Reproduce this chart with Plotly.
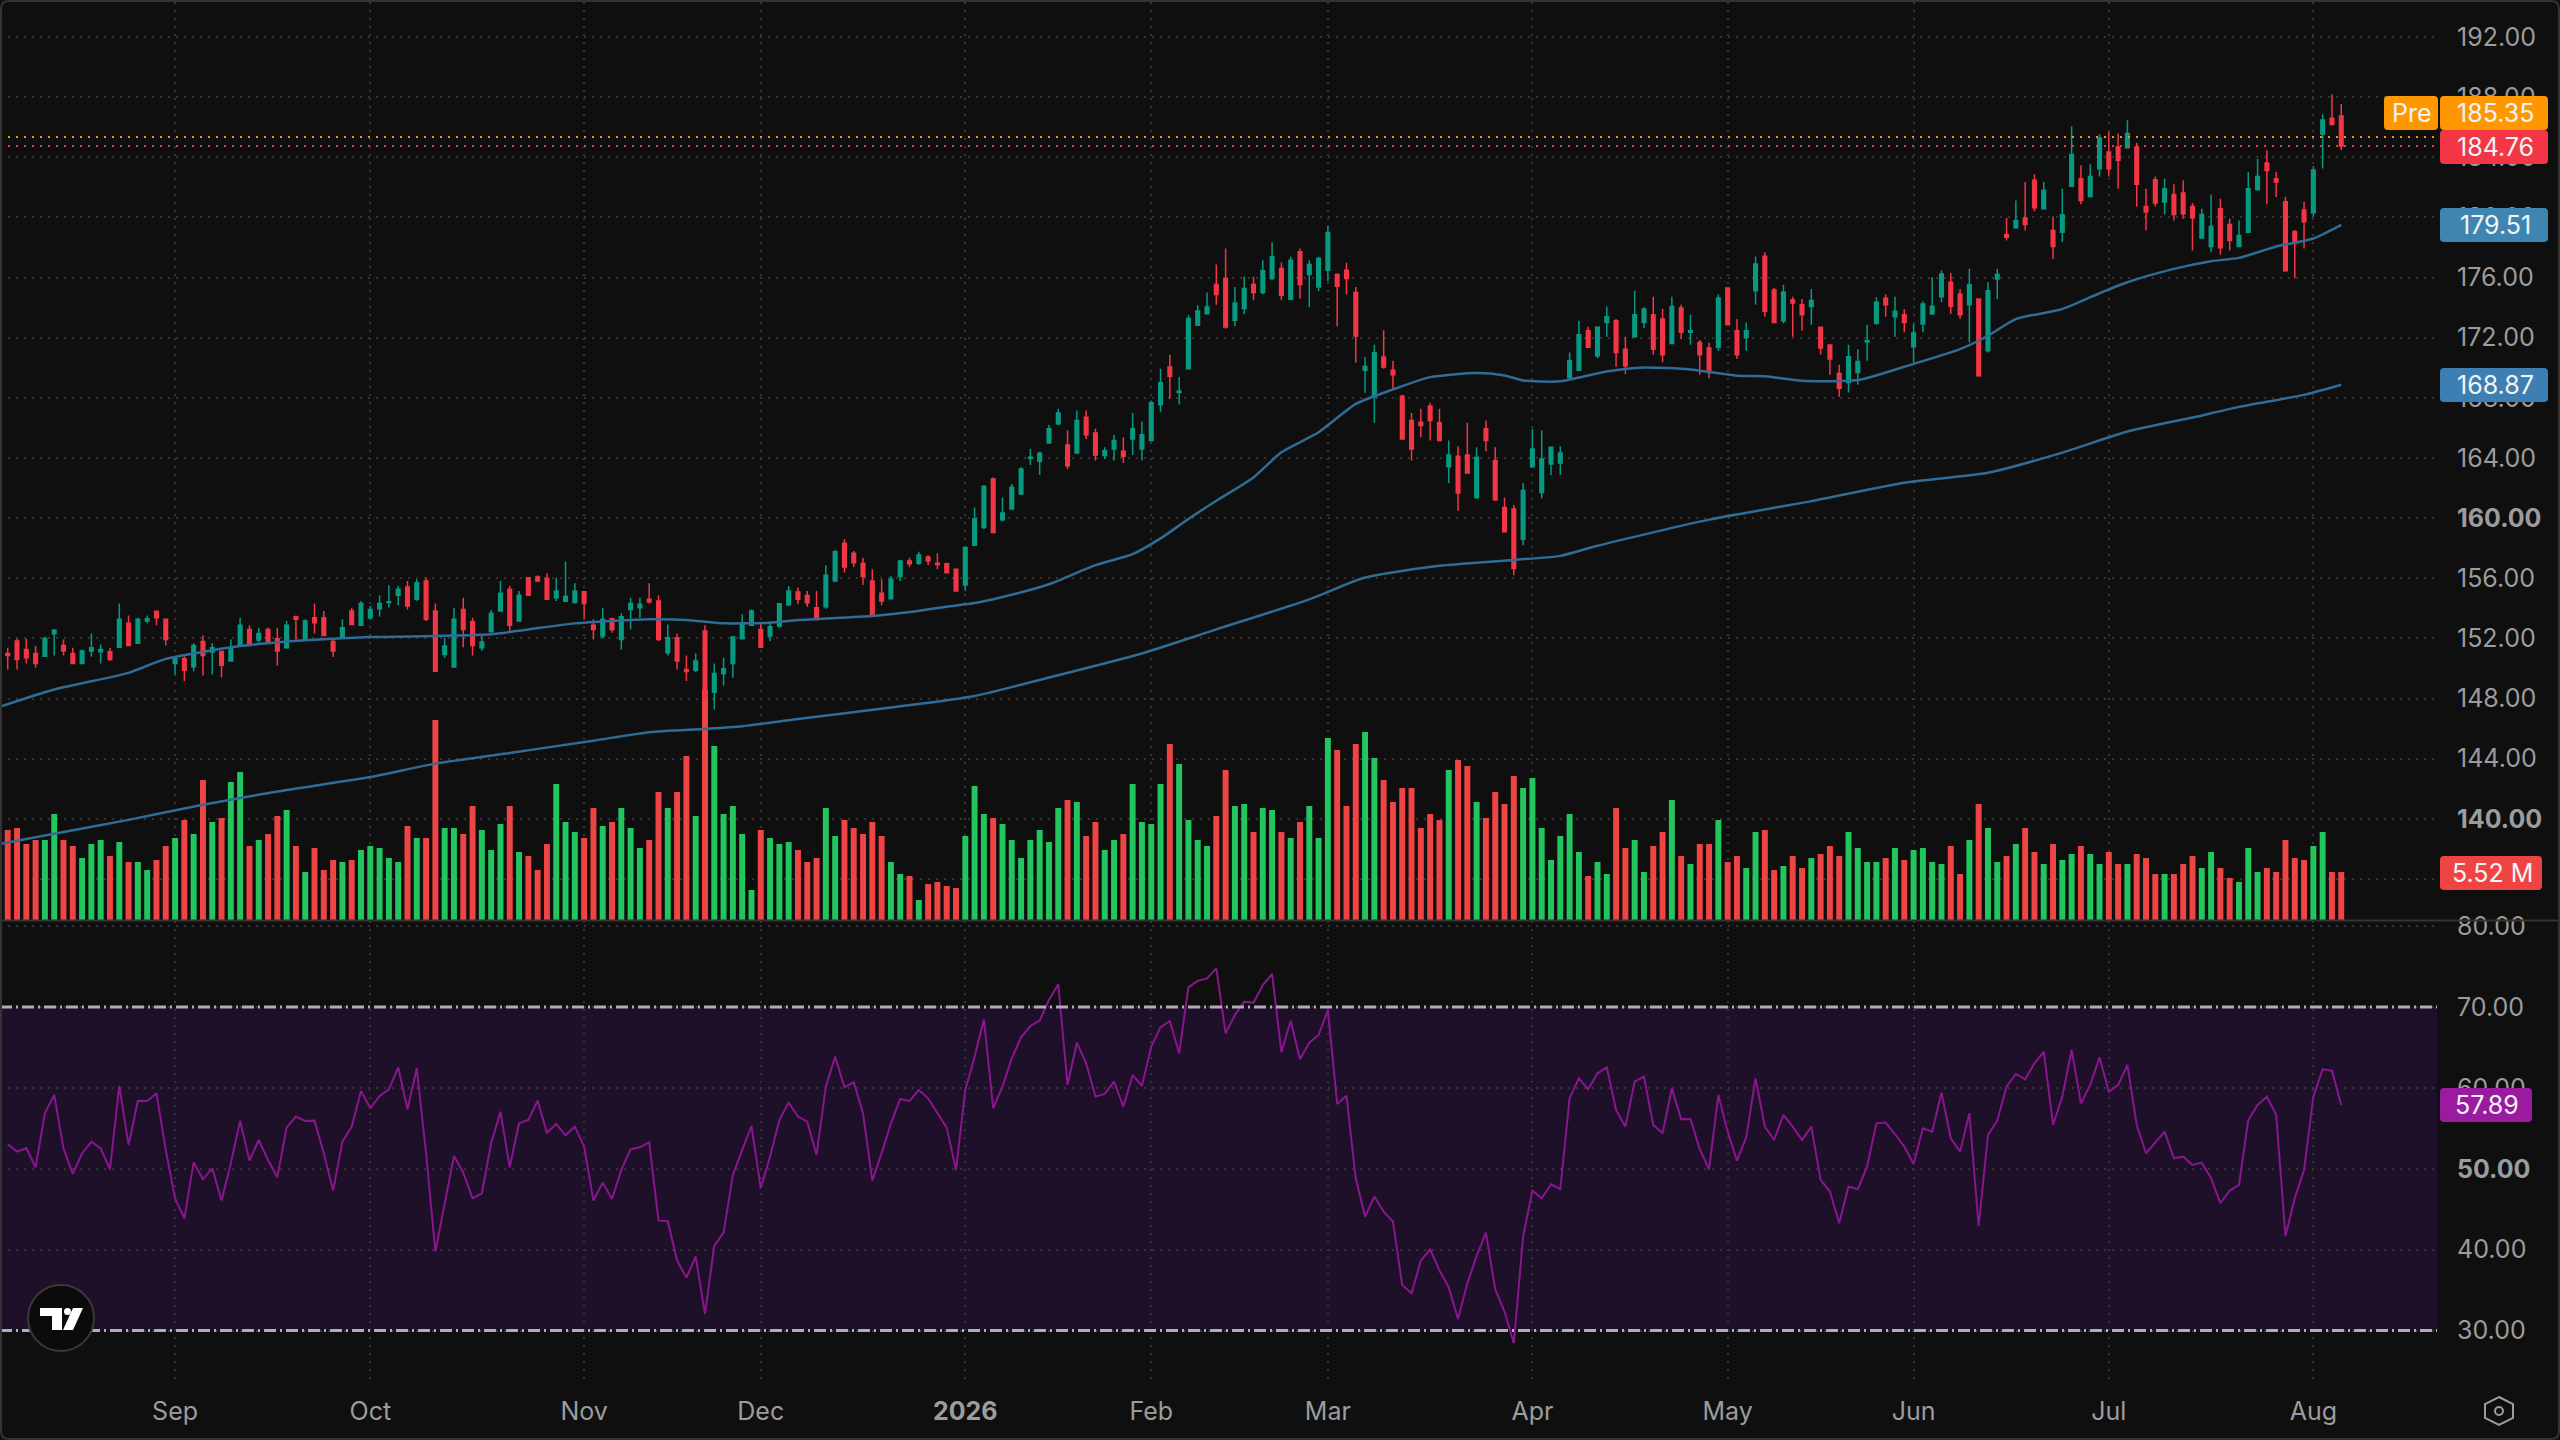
import plotly.graph_objects as go

W, H = 2560, 1440
BG = "#0f0f0f"
GRID = "#343434"
TICK = "#9c9c9c"
FONT = "Inter"

# one letter per session, R down / G up, Aug 2025 to Aug 2026
candle_dirs = (
    "RRRRGGRRGG" "GRGRGGRRGR" "GRGRGGRGRR" "GRGRRRGRGG" "GGGRGRRGGR"
    "RGGGRGRRRG" "GGRRGRGGGR" "RGRRGRGGGG" "GRGGGRRRGG" "RRRRRGGRGR"
    "RRRGGGRGGG" "GGGGRGRRGG" "RGGGGRGGGG" "RRGGRGGRGR" "GGGRRRGGRR"
    "RRRRRGRRGR" "RRRGGGGGGG" "RGGRRGGRRG" "RGRRGRRGGR" "RGRRGRRRGG"
    "GGRGRGGGGR" "RGRGGRGRRG" "RGGRGGRRGR" "RRGRRRGGRR" "GGGRRRRRGG"
    "RR"
)

high_prices = [
    151.38, 151.98, 151.98, 151.49, 152.11, 152.6, 151.93, 151.38, 151.27, 152.33,
    151.6, 151.38, 154.33, 153.53, 153.38, 153.53, 153.82, 153.31, 150.82, 150.82,
    151.67, 152.2, 151.67, 151.16, 151.93, 153.38, 152.87, 152.71, 152.71, 152.71,
    153.16, 153.53, 153.27, 154.33, 153.82, 151.93, 153.27, 154.04, 154.49, 154.16,
    154.87, 155.53, 155.49, 155.82, 155.93, 156.04, 154.33, 152.04, 154.04, 154.71,
    153.38, 152.16, 153.89, 155.82, 155.49, 155.16, 156.04, 156.2, 156.33, 156.04,
    157.11, 155.67, 155.16, 153.27, 154.04, 153.38, 153.67, 154.71, 154.71, 155.67,
    154.87, 152.93, 152.33, 150.87, 151.0, 152.87, 150.33, 150.71, 152.16, 153.6,
    153.93, 153.09, 153.16, 154.33, 155.49, 155.38, 155.16, 155.16, 156.86, 157.89,
    158.6, 157.82, 157.37, 156.6, 155.93, 156.15, 157.22, 157.37, 157.77, 157.53,
    157.66, 157.04, 156.64, 158.11, 160.71, 162.2, 162.71, 161.38, 162.27, 163.38,
    164.6, 164.42, 166.2, 167.27, 165.83, 167.16, 167.16, 165.94, 164.71, 165.54,
    165.38, 167.0, 166.42, 167.83, 169.94, 170.87, 169.38, 173.49, 174.16, 175.0,
    176.87, 177.94, 175.38, 176.05, 176.05, 177.16, 178.34, 177.0, 177.38, 177.94,
    177.16, 177.38, 179.45, 176.27, 176.98, 175.38, 170.71, 171.54, 172.49, 170.45,
    168.2, 167.0, 167.27, 167.67, 167.27, 165.16, 164.78, 166.34, 164.71, 166.49,
    164.71, 161.38, 160.87, 162.34, 165.94, 165.83, 164.71, 164.78, 171.02, 173.13,
    172.73, 172.73, 174.07, 173.24, 172.07, 175.13, 174.02, 174.73, 173.91, 174.73,
    174.2, 173.53, 171.84, 171.69, 174.87, 175.36, 173.24, 173.02, 177.4, 177.69,
    175.31, 175.53, 174.73, 174.58, 175.24, 172.73, 171.53, 170.2, 171.53, 171.24,
    172.87, 174.69, 174.87, 174.73, 173.91, 172.91, 174.42, 176.02, 176.47, 176.29,
    175.24, 176.58, 174.58, 175.69, 176.58, 179.96, 181.13, 182.36, 182.87, 182.36,
    180.07, 181.91, 186.07, 183.47, 183.53, 185.51, 185.69, 185.58, 186.47, 184.96,
    181.91, 182.73, 182.58, 182.2, 182.47, 180.96, 180.58, 181.53, 181.24, 179.91,
    179.8, 183.02, 183.91, 184.47, 183.02, 181.38, 179.16, 181.05, 183.4, 186.87,
    188.19, 187.54,
]

body_tops = [
    151.0, 151.82, 151.27, 151.0, 152.0, 152.56, 151.53, 151.0, 151.16, 151.38,
    151.27, 151.11, 153.27, 153.0, 153.27, 153.31, 153.8, 153.27, 150.64, 150.64,
    151.53, 151.8, 151.38, 151.13, 151.38, 152.87, 152.6, 152.33, 152.6, 151.98,
    152.87, 153.44, 153.16, 153.38, 153.38, 151.8, 152.71, 153.82, 154.33, 153.93,
    154.33, 154.44, 155.27, 155.42, 155.71, 155.82, 153.82, 151.49, 153.27, 153.93,
    153.11, 151.76, 153.67, 155.0, 155.27, 154.87, 156.04, 156.09, 155.98, 155.16,
    154.78, 155.16, 155.11, 152.87, 153.27, 153.31, 153.44, 154.33, 154.27, 154.6,
    154.49, 152.04, 152.04, 149.93, 150.49, 152.49, 149.67, 149.98, 152.09, 152.93,
    153.82, 152.6, 152.78, 154.31, 155.16, 155.09, 154.86, 154.04, 156.2, 157.77,
    158.33, 157.66, 157.0, 155.82, 155.0, 155.93, 157.15, 157.15, 157.55, 157.42,
    157.0, 156.97, 156.6, 158.04, 159.94, 162.11, 162.6, 160.34, 162.05, 163.27,
    164.05, 164.31, 165.94, 167.0, 164.87, 166.49, 166.71, 165.67, 164.49, 165.16,
    164.45, 165.94, 165.54, 167.67, 169.0, 170.05, 168.45, 173.27, 173.78, 174.05,
    175.54, 175.94, 174.31, 175.27, 175.54, 176.45, 177.38, 176.6, 177.16, 177.71,
    176.87, 177.27, 179.0, 176.2, 176.49, 175.0, 170.09, 171.0, 170.71, 169.83,
    168.11, 166.49, 166.38, 167.45, 166.34, 164.2, 164.11, 164.2, 164.05, 165.94,
    163.83, 160.71, 160.6, 161.83, 164.6, 163.94, 164.71, 164.34, 170.47, 172.2,
    172.47, 172.69, 173.4, 173.13, 171.24, 173.53, 173.91, 173.53, 173.24, 174.07,
    173.98, 172.47, 171.69, 171.31, 174.64, 175.31, 172.47, 172.47, 176.91, 177.42,
    175.18, 175.02, 174.51, 174.2, 174.47, 172.69, 171.51, 169.62, 170.73, 170.42,
    171.8, 174.36, 174.62, 173.76, 173.53, 172.31, 174.24, 174.07, 176.24, 175.69,
    174.91, 175.53, 174.58, 175.13, 176.2, 178.87, 179.8, 179.96, 182.47, 181.8,
    179.13, 180.18, 184.18, 182.58, 182.73, 185.29, 184.36, 184.69, 185.58, 184.69,
    180.73, 182.51, 181.91, 181.53, 181.62, 180.73, 180.2, 179.4, 180.58, 179.53,
    178.8, 181.91, 182.73, 183.62, 182.58, 181.05, 179.05, 180.49, 183.15, 186.48,
    186.59, 186.74,
]

body_bottoms = [
    150.87, 150.6, 150.71, 150.33, 150.82, 152.31, 151.16, 150.33, 150.33, 151.16,
    151.11, 150.6, 151.42, 151.53, 151.67, 153.16, 153.38, 151.93, 150.33, 149.89,
    150.11, 150.87, 151.09, 150.22, 150.49, 151.49, 151.53, 151.89, 151.76, 151.16,
    151.38, 153.27, 151.89, 153.04, 152.2, 151.16, 152.04, 152.93, 152.87, 153.38,
    153.98, 154.38, 154.87, 154.16, 154.6, 153.27, 149.82, 150.93, 150.09, 152.6,
    151.53, 151.38, 152.44, 153.82, 152.87, 153.16, 154.87, 155.82, 154.6, 154.71,
    154.47, 154.38, 154.33, 152.6, 152.16, 152.6, 151.93, 153.93, 154.04, 154.42,
    151.93, 151.04, 150.49, 149.8, 149.89, 147.82, 148.42, 149.67, 150.33, 151.98,
    152.87, 151.42, 152.16, 152.82, 154.22, 154.6, 154.37, 153.26, 154.11, 155.82,
    156.75, 157.04, 156.11, 153.53, 154.49, 154.64, 156.11, 156.97, 157.0, 157.15,
    156.91, 156.37, 155.15, 155.55, 158.2, 159.38, 159.05, 159.89, 160.6, 161.6,
    163.98, 163.78, 165.0, 166.27, 163.49, 164.34, 165.54, 164.2, 164.16, 164.6,
    164.11, 165.27, 164.6, 165.16, 167.54, 169.43, 168.36, 169.94, 172.83, 173.6,
    174.87, 172.72, 173.16, 173.94, 175.0, 175.0, 175.94, 174.83, 174.56, 175.54,
    176.2, 175.38, 176.49, 175.42, 175.94, 172.11, 169.83, 168.05, 170.05, 169.54,
    165.27, 164.6, 166.16, 166.49, 165.16, 163.42, 161.67, 163.0, 161.38, 165.16,
    161.2, 159.09, 156.65, 158.6, 163.42, 161.71, 163.6, 163.67, 169.36, 169.84,
    171.36, 170.8, 173.02, 171.02, 170.13, 172.07, 173.02, 171.24, 170.87, 171.62,
    172.36, 172.36, 170.87, 169.69, 171.36, 172.87, 170.87, 172.02, 175.13, 173.76,
    173.02, 173.13, 174.31, 173.53, 174.07, 171.31, 170.58, 168.64, 169.02, 169.69,
    171.71, 172.96, 174.2, 173.4, 173.02, 171.4, 172.91, 173.58, 174.73, 174.09,
    173.53, 174.2, 169.47, 171.13, 175.91, 178.69, 179.31, 179.53, 180.64, 180.58,
    178.07, 179.02, 182.07, 181.13, 181.4, 183.24, 183.24, 183.8, 184.64, 182.2,
    180.36, 180.96, 181.02, 180.2, 180.24, 179.98, 178.64, 178.07, 177.98, 178.47,
    178.07, 179.02, 181.84, 183.13, 182.36, 176.46, 178.27, 179.71, 180.31, 185.55,
    186.19, 184.76,
]

low_prices = [
    149.93, 149.93, 150.33, 150.04, 150.76, 150.87, 150.87, 150.31, 150.31, 150.78,
    150.33, 150.49, 151.4, 151.53, 151.64, 153.0, 152.87, 151.53, 149.6, 149.16,
    149.82, 149.53, 149.6, 149.42, 150.47, 151.44, 151.49, 151.71, 151.71, 150.2,
    151.31, 151.93, 151.87, 152.33, 152.16, 150.76, 152.02, 152.87, 152.87, 153.27,
    153.44, 154.04, 154.2, 153.93, 154.51, 153.16, 149.78, 150.71, 150.07, 151.42,
    150.87, 151.16, 152.42, 153.8, 152.49, 153.11, 154.87, 155.76, 154.6, 154.49,
    154.44, 154.33, 153.31, 151.93, 152.0, 152.38, 151.27, 152.6, 153.38, 154.33,
    151.82, 150.87, 149.93, 149.16, 149.76, 147.78, 147.27, 148.87, 149.38, 151.93,
    152.82, 151.38, 151.82, 152.71, 154.2, 154.27, 154.11, 153.26, 153.97, 155.82,
    156.37, 156.75, 155.55, 153.44, 154.2, 154.6, 155.82, 156.75, 156.89, 156.89,
    156.6, 156.33, 155.11, 155.15, 158.18, 159.27, 159.0, 159.78, 160.58, 161.54,
    163.54, 162.87, 164.98, 166.2, 163.27, 164.34, 165.27, 163.83, 163.94, 163.83,
    163.67, 164.2, 163.83, 165.09, 167.05, 167.94, 167.56, 169.94, 172.78, 173.56,
    174.2, 172.6, 172.76, 173.56, 174.49, 174.89, 175.83, 174.49, 174.49, 174.6,
    174.05, 175.11, 175.76, 172.76, 174.87, 170.34, 168.34, 166.34, 169.94, 168.49,
    165.27, 163.83, 165.38, 165.16, 165.11, 162.34, 160.49, 163.0, 161.27, 164.45,
    161.16, 159.05, 156.2, 158.2, 163.38, 161.31, 162.87, 162.87, 169.18, 169.8,
    171.31, 170.64, 172.07, 170.07, 169.58, 172.02, 172.64, 170.87, 170.36, 171.58,
    171.91, 171.53, 169.53, 169.31, 171.13, 172.87, 170.58, 171.13, 174.2, 173.4,
    172.98, 172.96, 172.07, 172.47, 172.87, 170.87, 169.53, 168.07, 168.36, 168.87,
    170.47, 172.87, 173.4, 172.07, 172.36, 170.24, 172.36, 173.53, 174.36, 173.58,
    173.24, 171.69, 169.4, 171.02, 174.58, 178.47, 179.24, 179.13, 180.42, 180.58,
    177.24, 178.36, 182.07, 180.87, 181.4, 182.73, 182.73, 181.91, 184.64, 180.73,
    179.13, 180.73, 180.2, 179.8, 179.91, 177.8, 178.6, 177.69, 177.53, 177.8,
    178.07, 178.98, 181.8, 180.87, 181.36, 176.39, 175.95, 177.94, 180.05, 183.26,
    186.15, 184.48,
]

# volume in millions
volumes = [
    10.35, 10.58, 8.74, 9.2, 9.2, 12.19, 9.2, 8.51, 7.13, 8.74,
    9.2, 7.36, 8.97, 6.67, 6.67, 5.75, 6.9, 8.51, 9.43, 11.5,
    9.89, 16.1, 11.27, 11.73, 15.87, 17.02, 8.51, 9.2, 9.89, 11.96,
    12.65, 8.51, 5.52, 8.28, 5.75, 6.9, 6.67, 6.9, 8.05, 8.51,
    8.28, 7.13, 6.67, 10.81, 9.43, 9.43, 23.0, 10.58, 10.58, 9.89,
    13.11, 10.35, 8.05, 11.04, 13.11, 7.82, 7.36, 5.75, 8.74, 15.64,
    11.27, 10.12, 9.43, 12.88, 10.81, 11.27, 12.88, 10.58, 8.28, 9.2,
    14.72, 12.88, 14.72, 18.86, 11.96, 26.45, 20.01, 12.19, 13.11, 9.89,
    3.45, 10.35, 9.43, 8.74, 8.97, 8.05, 6.67, 7.13, 12.88, 9.66,
    11.5, 10.58, 9.89, 11.27, 9.66, 6.67, 5.29, 5.06, 2.3, 4.14,
    4.37, 3.91, 3.68, 9.66, 15.41, 12.19, 11.73, 11.04, 9.2, 7.13,
    9.2, 10.35, 8.97, 12.88, 13.8, 13.57, 9.66, 11.27, 8.05, 9.2,
    9.89, 15.64, 11.27, 11.04, 15.64, 20.24, 17.94, 11.5, 9.2, 8.51,
    11.96, 17.25, 13.11, 13.34, 10.12, 12.88, 12.65, 10.12, 9.43, 11.27,
    13.11, 9.43, 20.93, 19.55, 13.11, 20.24, 21.62, 18.63, 16.1, 13.57,
    15.18, 15.18, 10.58, 12.19, 11.5, 17.25, 18.4, 17.71, 13.57, 11.73,
    14.72, 13.34, 16.56, 15.18, 16.33, 10.58, 6.9, 9.66, 12.19, 7.82,
    5.06, 6.67, 5.29, 12.88, 8.28, 9.2, 5.52, 8.51, 10.12, 13.8,
    7.36, 6.44, 8.74, 8.74, 11.5, 6.67, 7.36, 5.98, 10.12, 10.35,
    5.75, 6.21, 7.36, 5.98, 7.13, 7.59, 8.51, 7.36, 10.12, 8.28,
    6.67, 6.67, 7.13, 8.28, 6.9, 8.05, 8.28, 6.67, 6.44, 8.51,
    5.29, 9.2, 13.34, 10.58, 6.67, 7.36, 8.74, 10.58, 7.82, 6.44,
    8.74, 6.9, 7.59, 8.51, 7.59, 6.44, 7.82, 6.44, 6.44, 7.59,
    7.13, 5.29, 5.29, 5.29, 6.44, 7.36, 5.98, 7.82, 5.98, 4.83,
    4.37, 8.28, 5.52, 5.98, 5.52, 9.2, 7.13, 6.9, 8.51, 10.12,
    5.52, 5.52,
]

rsi_values = [
    53.03, 52.12, 52.57, 50.19, 56.86, 59.12, 52.53, 49.36, 51.92, 53.36,
    52.53, 49.94, 60.24, 52.95, 58.42, 58.38, 59.33, 52.33, 46.35, 43.88,
    50.8, 48.7, 50.06, 46.07, 50.68, 55.95, 51.01, 53.56, 51.09, 48.95,
    55.09, 56.45, 55.91, 55.95, 51.92, 47.3, 53.36, 55.21, 59.62, 57.48,
    59.0, 59.82, 62.54, 57.35, 62.42, 51.92, 39.76, 45.74, 51.59, 49.53,
    46.35, 46.97, 53.15, 57.06, 50.19, 55.62, 56.03, 58.42, 54.47, 55.54,
    54.14, 55.21, 52.74, 46.07, 48.29, 46.27, 49.86, 52.41, 52.66, 53.27,
    43.59, 43.51, 38.65, 36.55, 39.15, 32.06, 40.46, 42.11, 49.24, 52.33,
    55.29, 47.59, 51.5, 56.03, 58.18, 56.45, 55.83, 51.71, 60.15, 63.86,
    60.07, 60.69, 56.86, 48.54, 51.92, 55.62, 58.63, 58.38, 59.74, 58.71,
    56.86, 55.09, 49.86, 59.74, 63.86, 68.48, 57.48, 60.15, 63.66, 66.25,
    67.65, 68.31, 70.87, 72.8, 60.36, 65.59, 63.04, 58.92, 59.25, 60.77,
    57.68, 61.6, 60.24, 65.1, 67.49, 68.27, 64.27, 72.43, 73.25, 73.54,
    74.78, 66.75, 69.01, 70.66, 70.54, 72.72, 74.08, 64.4, 68.31, 63.53,
    65.59, 66.54, 69.63, 58.01, 59.04, 48.83, 44.09, 46.56, 44.71, 43.47,
    35.64, 34.61, 38.65, 40.05, 37.42, 35.36, 31.44, 35.85, 39.23, 42.11,
    35.11, 32.35, 28.43, 41.62, 47.3, 46.35, 48.08, 47.47, 58.71, 61.18,
    59.82, 61.8, 62.54, 57.27, 55.21, 60.77, 61.39, 55.42, 54.39, 59.95,
    56.12, 56.16, 52.41, 49.94, 59.12, 54.59, 51.01, 53.89, 61.18, 55.21,
    53.56, 56.65, 55.21, 53.56, 55.21, 48.62, 47.18, 43.26, 47.8, 47.47,
    50.27, 55.62, 55.71, 54.3, 52.74, 50.6, 55.0, 54.59, 59.41, 53.77,
    52.12, 56.86, 42.93, 54.18, 55.95, 60.15, 61.72, 61.06, 63.04, 64.48,
    55.42, 58.92, 64.69, 58.09, 60.36, 63.78, 59.54, 60.36, 62.83, 55.42,
    51.92, 53.23, 54.59, 51.3, 51.5, 50.47, 50.76, 48.83, 45.74, 47.3,
    48.0, 56.03, 57.89, 58.92, 56.65, 41.7, 46.35, 49.86, 58.92, 62.3,
    62.13, 57.89,
]

# moving averages read at a few sessions each, they run off the left edge
ma50_sessions = [-1, 5, 13, 17, 25, 32, 39, 46, 52, 56, 61, 69, 73, 77, 82, 85, 93, 97, 101, 104,
                 107, 112, 117, 121, 124, 127, 130, 134, 137, 141, 145, 149, 153, 158, 161, 163, 167,
                 172, 176, 181, 186, 189, 193, 199, 204, 210, 213, 216, 221, 225, 228, 233, 237, 240,
                 244, 248, 251]
ma50_values = [147.42, 148.6, 149.71, 150.64, 151.49, 151.87, 152.09, 152.16, 152.27, 152.6, 153.0,
               153.27, 153.22, 153.0, 153.04, 153.22, 153.49, 153.75, 154.11, 154.35, 154.75, 155.6,
               156.87, 157.6, 158.65, 159.94, 161.16, 162.71, 164.38, 165.71, 167.6, 168.56, 169.38,
               169.65, 169.49, 169.16, 169.1, 169.76, 170.02, 169.89, 169.47, 169.44, 169.13, 169.18,
               170.07, 171.24, 172.13, 173.24, 173.91, 174.96, 175.69, 176.58, 177.09, 177.31, 178.07,
               178.6, 179.51]

ma200_sessions = [-1, 5, 13, 21, 29, 39, 46, 54, 63, 69, 75, 79, 85, 95, 104, 112, 122, 130, 140, 146,
                  154, 162, 167, 171, 183, 194, 204, 213, 221, 228, 235, 240, 247, 251]
ma200_values = [138.3, 139.0, 139.93, 140.93, 141.82, 142.78, 143.67, 144.38, 145.2, 145.76, 145.98,
                146.16, 146.64, 147.4, 148.17, 149.4, 151.0, 152.6, 154.6, 156.05, 156.83, 157.22,
                157.49, 158.16, 159.9, 161.13, 162.36, 163.02, 164.36, 165.76, 166.69, 167.4, 168.2,
                168.87]

month_sessions = [18, 39, 62, 81, 103, 123, 142, 164, 185, 205, 226, 248]
month_labels = ["Sep", "Oct", "Nov", "Dec", "<b>2026</b>", "Feb", "Mar", "Apr", "May", "Jun", "Jul", "Aug"]

price_ticks = [136, 140, 144, 148, 152, 156, 160, 164, 168, 172, 176, 180, 184, 188, 192]
price_labels = ["136.00", "<b>140.00</b>", "144.00", "148.00", "152.00", "156.00", "<b>160.00</b>", "164.00",
                "168.00", "172.00", "176.00", "180.00", "184.00", "188.00", "192.00"]
rsi_ticks = [30, 40, 50, 60, 70, 80]
rsi_labels = ["30.00", "40.00", "<b>50.00</b>", "60.00", "70.00", "80.00"]

pre_price = 185.35
last_price = 184.76


def px(x):
    return x / W


def py(y):
    return 1 - y / H


def round_rect(x0, y0, x1, y1, r=4):
    """SVG path in paper coords for a pixel box with rounded corners"""
    pts = [("M", x0 + r, y0), ("L", x1 - r, y0), ("Q", x1, y0, x1, y0 + r), ("L", x1, y1 - r),
           ("Q", x1, y1, x1 - r, y1), ("L", x0 + r, y1), ("Q", x0, y1, x0, y1 - r), ("L", x0, y0 + r),
           ("Q", x0, y0, x0 + r, y0)]
    parts = []
    for p in pts:
        coords = p[1:]
        pairs = [f"{px(coords[i])},{py(coords[i + 1])}" for i in range(0, len(coords), 2)]
        parts.append(p[0] + " ".join(pairs))
    return " ".join(parts) + " Z"


def poly(points):
    return "M" + " L".join(f"{px(a)},{py(b)}" for a, b in points) + " Z"


sessions = list(range(len(candle_dirs)))
assert len(high_prices) == len(body_tops) == len(body_bottoms) == len(low_prices) == len(volumes) == len(rsi_values) == len(sessions)

is_up = [d == "G" for d in candle_dirs]
open_prices = [b if up else t for up, t, b in zip(is_up, body_tops, body_bottoms)]
close_prices = [t if up else b for up, t, b in zip(is_up, body_tops, body_bottoms)]
volume_colors = ["#22c55e" if up else "#ef4444" for up in is_up]

fig = go.Figure()

fig.add_trace(go.Bar(x=sessions, y=volumes, marker=dict(color=volume_colors, line_width=0),
                     width=0.64, xaxis="x", yaxis="y", showlegend=False))
fig.add_trace(go.Candlestick(x=sessions, open=open_prices, high=high_prices, low=low_prices, close=close_prices,
                             increasing=dict(line=dict(color="#089981", width=1.5), fillcolor="#089981"),
                             decreasing=dict(line=dict(color="#f23645", width=1.5), fillcolor="#f23645"),
                             whiskerwidth=0, xaxis="x", yaxis="y2", showlegend=False))
for ma_x, ma_y in ((ma50_sessions, ma50_values), (ma200_sessions, ma200_values)):
    fig.add_trace(go.Scatter(x=ma_x, y=ma_y, mode="lines", line=dict(color="#2f6c97", width=2.5, shape="spline", smoothing=0.6),
                             xaxis="x", yaxis="y2", showlegend=False))
fig.add_trace(go.Scatter(x=sessions, y=rsi_values, mode="lines", line=dict(color="#8a168f", width=2),
                         xaxis="x2", yaxis="y3", showlegend=False))

x_range = [-0.83, 261.3]
PANE_RIGHT = 2437 / W
grid = dict(showgrid=True, gridcolor=GRID, gridwidth=2, griddash="2px,6px", zeroline=False, showline=False,
            automargin=False)
tick_font = dict(family=FONT, size=25, color=TICK)

fig.update_layout(
    width=W, height=H, margin=dict(l=0, r=0, t=0, b=0), paper_bgcolor=BG, plot_bgcolor=BG,
    font=dict(family=FONT), hovermode=False, dragmode=False, showlegend=False, boxgap=0.45,
    xaxis=dict(domain=[0, PANE_RIGHT], range=x_range, anchor="y", tickvals=month_sessions, showticklabels=False,
               rangeslider=dict(visible=False), ticks="", **grid),
    xaxis2=dict(domain=[0, PANE_RIGHT], range=x_range, anchor="y3", tickvals=month_sessions, ticktext=month_labels,
                tickfont=tick_font, ticks="outside", ticklen=9, tickcolor=BG, **grid),
    yaxis=dict(domain=[py(920), py(2)], range=[0, 105.56], showgrid=False, showticklabels=False, zeroline=False,
               anchor="x", fixedrange=True, automargin=False),
    yaxis2=dict(domain=[py(920), py(2)], range=[133.27, 194.33], overlaying="y", anchor="x", side="right",
                tickvals=price_ticks, ticktext=price_labels, tickfont=tick_font, ticks="outside", ticklen=14,
                tickcolor=BG, **grid),
    yaxis3=dict(domain=[py(1380), py(921)], range=[23.89, 80.63], anchor="x2", side="right",
                tickvals=rsi_ticks, ticktext=rsi_labels, tickfont=tick_font, ticks="outside", ticklen=14,
                tickcolor=BG, **grid),
)

shapes = [
    # RSI band and its limits
    dict(type="rect", xref="paper", yref="y3", x0=0, x1=PANE_RIGHT, y0=30, y1=70, fillcolor="#1e1028",
         line_width=0, layer="below"),
    dict(type="line", xref="paper", yref="y3", x0=0, x1=PANE_RIGHT, y0=70, y1=70,
         line=dict(color="#b3acb8", width=3, dash="12px,4px,2px,4px")),
    dict(type="line", xref="paper", yref="y3", x0=0, x1=PANE_RIGHT, y0=30, y1=30,
         line=dict(color="#b3acb8", width=3, dash="12px,4px,2px,4px")),
    # last price lines
    dict(type="line", xref="paper", yref="y2", x0=0, x1=PANE_RIGHT, y0=pre_price, y1=pre_price,
         line=dict(color="#ff9800", width=2, dash="2px,6px")),
    dict(type="line", xref="paper", yref="y2", x0=0, x1=PANE_RIGHT, y0=last_price, y1=last_price,
         line=dict(color="#f23645", width=2, dash="2px,6px")),
    # pane divider and frame
    dict(type="line", xref="paper", yref="paper", x0=0, x1=1, y0=py(920.5), y1=py(920.5),
         line=dict(color="#333333", width=2)),
    dict(type="path", xref="paper", yref="paper", path=round_rect(1, 1, W - 1, H - 1, 8),
         line=dict(color="#333333", width=2)),
]

# price tags on the right: (left, right, top, bottom, colour, text)
tags = [
    (2384, 2438, 96, 130, "#ff9800", "Pre"),
    (2440, 2548, 96, 130, "#ff9800", f"{pre_price:.2f}"),
    (2440, 2548, 130, 164, "#f23645", f"{last_price:.2f}"),
    (2440, 2548, 208, 242, "#3f85b2", "179.51"),
    (2440, 2548, 368, 402, "#3d7fb2", "168.87"),
    (2440, 2542, 856, 890, "#ef4444", "5.52 M"),
    (2440, 2532, 1088, 1122, "#9a1aa0", "57.89"),
]
annotations = []
for x0, x1, y0, y1, color, text in tags:
    shapes.append(dict(type="path", xref="paper", yref="paper", path=round_rect(x0, y0, x1, y1, 4),
                       fillcolor=color, line_width=0))
    annotations.append(dict(xref="paper", yref="paper", x=px((x0 + x1) / 2 + 1), y=py((y0 + y1) / 2), text=text,
                            xanchor="center", yanchor="middle", showarrow=False,
                            font=dict(family=FONT, size=25, color="#f4f4f4")))

# TradingView badge
shapes += [
    dict(type="circle", xref="paper", yref="paper", x0=px(28), x1=px(94), y0=py(1351), y1=py(1285),
         fillcolor="#0b0b0b", line=dict(color="#3a3a3a", width=2)),
    dict(type="path", xref="paper", yref="paper", fillcolor="#ffffff", line_width=0,
         path=poly([(40, 1308), (62, 1308), (62, 1330), (52, 1330), (52, 1316), (40, 1316)])),
    dict(type="circle", xref="paper", yref="paper", x0=px(64), x1=px(71), y0=py(1315), y1=py(1308),
         fillcolor="#ffffff", line_width=0),
    dict(type="path", xref="paper", yref="paper", fillcolor="#ffffff", line_width=0,
         path=poly([(73, 1308), (83, 1308), (73, 1330), (63, 1330)])),
    # settings hexagon, bottom right
    dict(type="path", xref="paper", yref="paper", line=dict(color=TICK, width=2),
         path=poly([(2499, 1397), (2513, 1404), (2513, 1418), (2499, 1425), (2485, 1418), (2485, 1404)])),
    dict(type="circle", xref="paper", yref="paper", x0=px(2495), x1=px(2503), y0=py(1415), y1=py(1407),
         line=dict(color=TICK, width=2)),
]

fig.update_layout(shapes=shapes, annotations=annotations)

fig.write_html("out.html", config={"displayModeBar": False},
               post_script="document.body.style.margin='0';document.body.style.background='#0f0f0f';")
